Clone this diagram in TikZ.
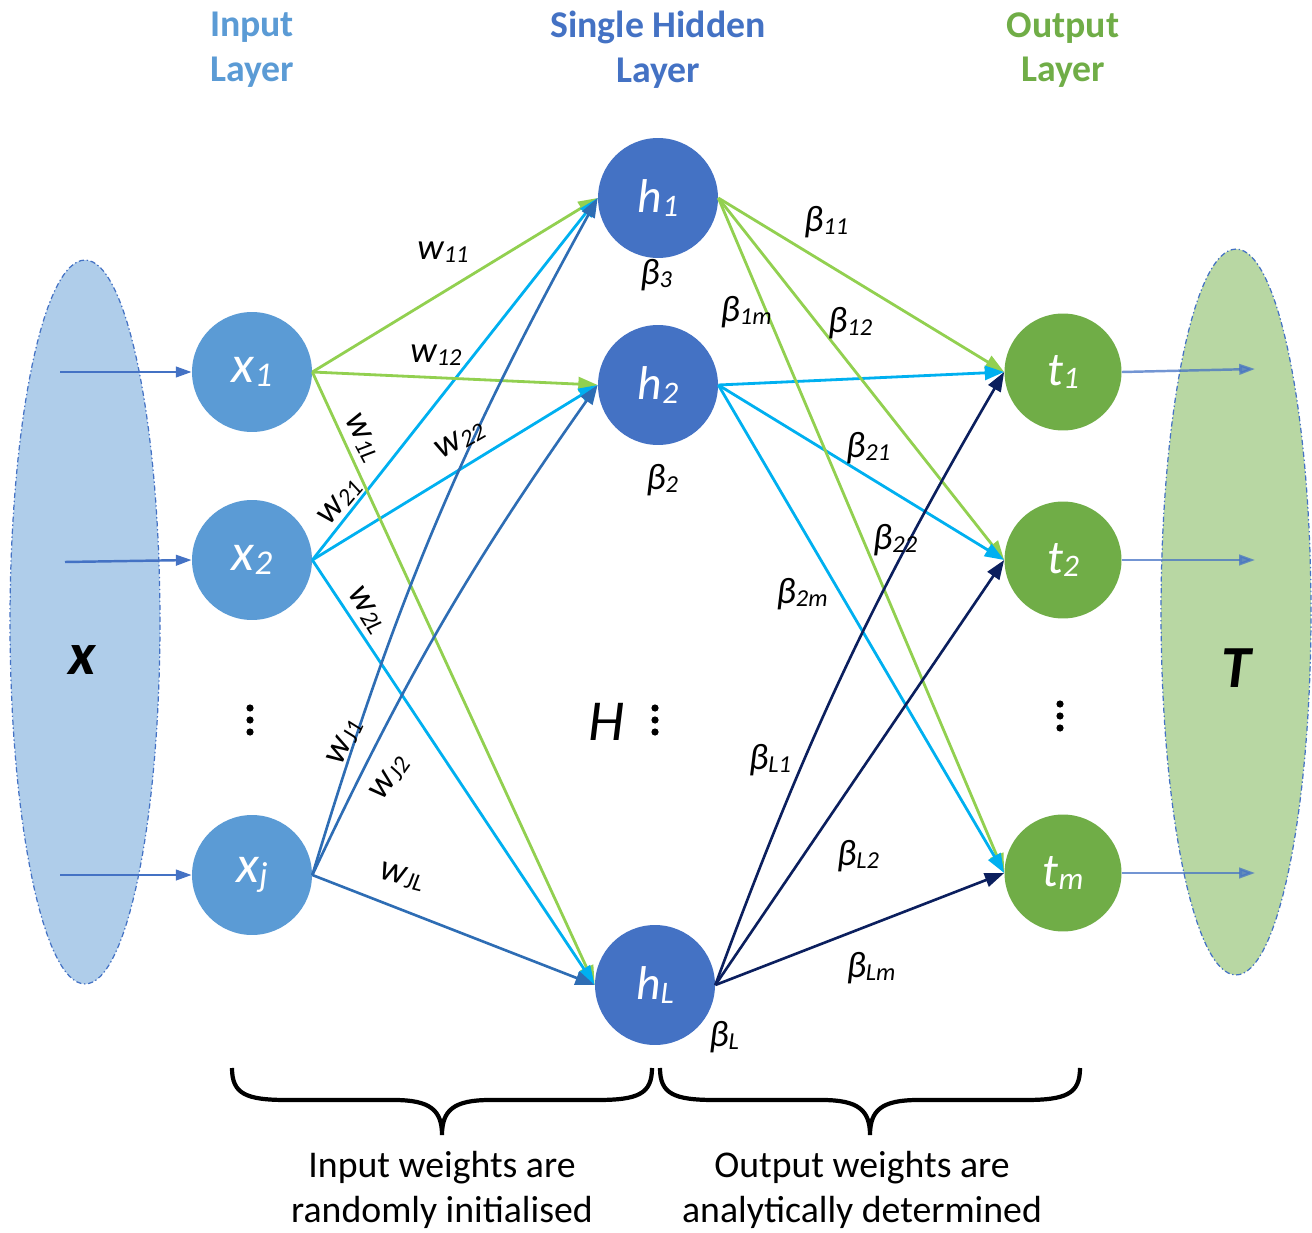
\documentclass[tikz,border=0pt]{standalone}
\usepackage{fontspec}
\setmainfont{Carlito}
\usetikzlibrary{arrows.meta,shapes.geometric,positioning}

\definecolor{inblue}{HTML}{5B9BD5}
\definecolor{hidblue}{HTML}{4472C4}
\definecolor{outgreen}{HTML}{70AD47}
\definecolor{wgreen}{HTML}{92D050}
\definecolor{wcyan}{HTML}{00B0F0}
\definecolor{wdark}{HTML}{2E6DB4}
\definecolor{bnavy}{HTML}{0B1F5E}
\definecolor{setblue}{HTML}{AFCDEA}
\definecolor{setgreen}{HTML}{B8D7A3}

% small index set nearly on the baseline
\newcommand\lo[1]{\raisebox{-0.08em}{\scalebox{0.66}{#1}}}

\begin{document}
\begin{tikzpicture}[x=0.02cm, y=-0.02cm,
  every node/.style={font=\fontsize{20}{24}\selectfont},
  neuron/.style={circle, minimum size=2.4cm, inner sep=0pt, text=white},
  setbox/.style={ellipse, inner sep=0pt, minimum width=3cm, draw=hidblue, line width=0.7pt,
    dash pattern=on 3pt off 1.5pt on 0.8pt off 1.5pt},
  link/.style={line width=1.6pt, -{Triangle[length=11pt,width=8pt]}},
  feed/.style={line width=1.4pt, draw=hidblue, -{Triangle[length=9pt,width=6pt]}},
  wlab/.style={font=\fontsize{21}{24}\selectfont\itshape},
  title/.style={align=center, font=\fontsize{21.5}{25.5}\selectfont\bfseries},
  note/.style={align=center, font=\fontsize{21.5}{25.5}\selectfont}]
  \useasboundingbox (0,0) rectangle (1312,1233);

  % input and target sets
  \node[setbox, fill=setblue, minimum height=14.48cm] (Xset) at (85,622) {};
  \node[setbox, fill=setgreen, minimum height=14.52cm] (Tset) at (1236,612) {};
  \node[font=\fontsize{34}{34}\selectfont\bfseries\itshape] (Xlab) at (82,660) {x};
  \node[font=\fontsize{34}{34}\selectfont\bfseries\itshape] (Tlab) at (1236,668) {T};

  % layer titles
  \node[title, text=inblue] (tin) at (252,50) {Input\\Layer};
  \node[title, text=hidblue] (thid) at (658,50) {Single Hidden\\Layer};
  \node[title, text=outgreen] (tout) at (1063,50) {Output\\Layer};

  % neurons
  \begin{scope}[every node/.append style={font=\fontsize{30}{30}\selectfont\itshape}]
    \node[neuron, fill=inblue] (x1) at (252,372) {x\lo{1}};
    \node[neuron, fill=inblue] (x2) at (252,560) {x\lo{2}};
    \node[neuron, fill=inblue] (xj) at (252,875) {x\lo{j}};
  \end{scope}
  \begin{scope}[every node/.append style={font=\fontsize{27}{30}\selectfont\itshape}]
    \node[neuron, fill=hidblue] (h1) at (658,198) {h\lo{1}};
    \node[neuron, fill=hidblue] (h2) at (658,385) {h\lo{2}};
    \node[neuron, fill=hidblue] (hL) at (655,985) {h\lo{L}};
    \node[neuron, fill=outgreen, minimum size=2.34cm] (t1) at (1063,372) {t\lo{1}};
    \node[neuron, fill=outgreen, minimum size=2.34cm] (t2) at (1063,560) {t\lo{2}};
    \node[neuron, fill=outgreen, minimum size=2.34cm] (tm) at (1063,873) {t\lo{m}};
  \end{scope}

  % vertical dots
  \foreach \dx/\dy in {250/708, 655/708, 1060/704}
    \foreach \k in {0,1,2}
      \fill (\dx,\dy+\k*12) circle (3.6);
  \node[font=\fontsize{33}{33}\selectfont\itshape] (Hlab) at (607,722) {H};

  % inputs and outputs
  \coordinate (in1) at (60,372);
  \coordinate (in2) at (65,562);
  \coordinate (inj) at (60,875);
  \coordinate (out1) at (1255,369);
  \coordinate (out2) at (1255,560);
  \coordinate (outm) at (1255,873);
  \draw[feed] (in1) -- (x1.west);
  \draw[feed] (in2) -- (x2.west);
  \draw[feed] (inj) -- (xj.west);
  \draw[feed, opacity=0.75] (t1.east) -- (out1);
  \draw[feed, opacity=0.75] (t2.east) -- (out2);
  \draw[feed, opacity=0.75] (tm.east) -- (outm);

  % input weights
  \foreach \h in {h1,h2,hL} {
    \draw[link, wgreen] (x1.east) -- (\h.west);
    \draw[link, wcyan] (x2.east) -- (\h.west);
  }
  \draw[link, wdark, line width=1.5pt] (xj.east) to[bend left=6] (h1.west);
  \draw[link, wdark, line width=1.5pt] (xj.east) to[bend left=5] (h2.west);
  \draw[link, wdark, line width=1.5pt] (xj.east) -- (hL.west);

  % output weights
  \foreach \t in {t1,t2,tm} {
    \draw[link, wgreen] (h1.east) -- (\t.west);
    \draw[link, wcyan] (h2.east) -- (\t.west);
  }
  \draw[link, bnavy, line width=1.5pt] (hL.east) to[bend left=5] (t1.west);
  \draw[link, bnavy, line width=1.5pt] (hL.east) -- (t2.west);
  \draw[link, bnavy, line width=1.5pt] (hL.east) -- (tm.west);

  % weight labels
  \node[wlab] (w11) at (443,252) {w\lo{11}};
  \node[wlab] (w12) at (436,355) {w\lo{12}};
  \node[wlab, rotate=-62] (w1L) at (362,438) {w\lo{1L}};
  \node[wlab, rotate=30] (w22) at (460,440) {w\lo{22}};
  \node[wlab, rotate=50] (w21) at (340,502) {w\lo{21}};
  \node[wlab, rotate=-58] (w2L) at (367,610) {w\lo{2L}};
  \node[wlab, rotate=65] (wJ1) at (345,742) {w\lo{J1}};
  \node[wlab, rotate=55] (wJ2) at (390,778) {w\lo{J2}};
  \node[wlab, rotate=-14] (wJL) at (402,877) {w\lo{JL}};

  \node[wlab] (b11) at (826,222) {β\lo{11}};
  \node[wlab] (b3) at (656,275) {β\lo{3}};
  \node[wlab] (b1m) at (746,312) {β\lo{1m}};
  \node[wlab] (b12) at (850,323) {β\lo{12}};
  \node[wlab] (b21) at (868,448) {β\lo{21}};
  \node[wlab] (b2) at (662,480) {β\lo{2}};
  \node[wlab] (b22) at (895,540) {β\lo{22}};
  \node[wlab] (b2m) at (802,594) {β\lo{2m}};
  \node[wlab] (bL1) at (770,760) {β\lo{L1}};
  \node[wlab] (bL2) at (858,856) {β\lo{L2}};
  \node[wlab] (bLm) at (871,968) {β\lo{Lm}};
  \node[wlab] (bL) at (724,1037) {β\lo{L}};

  % braces
  \foreach \a/\b in {232/652, 660/1080}
    \draw[line width=2.4pt] (\a,1068) .. controls (\a,1094) and (\a+14,1100) .. (\a+55,1100)
      -- ({(\a+\b)/2-48},1100) .. controls ({(\a+\b)/2-12},1100) and ({(\a+\b)/2},1110) .. ({(\a+\b)/2},1135)
      .. controls ({(\a+\b)/2},1110) and ({(\a+\b)/2+12},1100) .. ({(\a+\b)/2+48},1100)
      -- (\b-55,1100) .. controls (\b-14,1100) and (\b,1094) .. (\b,1068);
  \node[note] (nin) at (442,1190) {Input weights are\\randomly initialised};
  \node[note] (nout) at (862,1190) {Output weights are\\analytically determined};
\end{tikzpicture}
\end{document}
